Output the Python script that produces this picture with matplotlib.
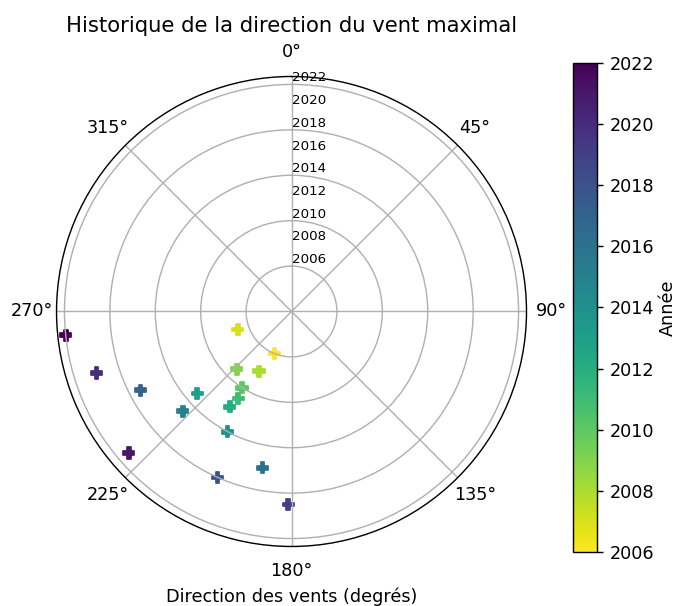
import numpy as np
import matplotlib.pyplot as plt

# Année et direction (degrés) du vent maximal
annees = [2006, 2007, 2008, 2009, 2010, 2011, 2012, 2013, 2014,
          2015, 2016, 2017, 2018, 2019, 2020, 2021, 2022]
directions = [202, 251.5, 208.5, 223.5, 213, 211.5, 213, 229, 208,
              227.5, 190.5, 242.5, 204, 181, 252.5, 229, 264]

annees_labels = list(range(2006, 2023, 2))

fig = plt.figure(figsize=(677 / 127, 606 / 127), dpi=127)
ax = fig.add_axes([0.0835, 0.0982, 0.6942, 0.7756], projection="polar")
cax = fig.add_axes([0.8464, 0.0891, 0.0355, 0.807])

ax.set_theta_zero_location("N")
ax.set_theta_direction(-1)

sc = ax.scatter(np.radians(directions), annees, c=annees, cmap="viridis_r",
                marker="P", s=40, vmin=2006, vmax=2022)

ax.set_ylim(2002, 2022.7)
ax.set_yticks([2006, 2010, 2014, 2018, 2022])
ax.set_yticklabels([])
for a in annees_labels:
    ax.text(0, a, str(a), ha="left", va="bottom", fontsize=7.6)

ax.set_title("Historique de la direction du vent maximal")
ax.set_xlabel("Direction des vents (degrés)")

cb = fig.colorbar(sc, cax=cax)
cb.set_label("Année", labelpad=3)

fig.savefig("out.png", dpi=127)
